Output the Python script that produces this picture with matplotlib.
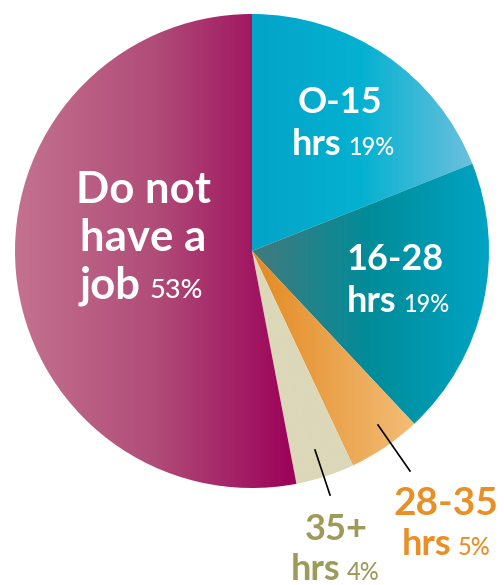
import numpy as np
import matplotlib
matplotlib.use("Agg")
import matplotlib.pyplot as plt
from matplotlib.colors import LinearSegmentedColormap

# Share of respondents by weekly hours of paid work
categories = ["0-15 hrs", "16-28 hrs", "28-35 hrs", "35+ hrs", "Do not have a job"]
shares = [19, 19, 5, 4, 53]

# Horizontal colour ramps for each slice (left -> right)
ramps = [
    ["#02a4c7", "#05b1d1", "#6cc0dd"],
    ["#437a7d", "#008c99", "#00a4c4"],
    ["#e38a22", "#f3bd78"],
    ["#dcd8b9", "#dcd8b9"],
    ["#c4728f", "#b04c78", "#9b0058"],
]

W, H = 504, 585
fig = plt.figure(figsize=(W / 100, H / 100), dpi=100)
ax = fig.add_axes([0, 0, 1, 1])

cx, cy, r = 252, H - 251, 237
wedges, _ = ax.pie(shares, startangle=90, counterclock=False,
                   center=(cx, cy), radius=r, frame=True,
                   wedgeprops=dict(linewidth=0))
ax.set_xlim(0, W)
ax.set_ylim(0, H)
ax.set_aspect("equal")
ax.axis("off")

grad = np.linspace(0, 1, 256).reshape(1, -1)
for w, cols in zip(wedges, ramps):
    w.set_facecolor("none")
    cmap = LinearSegmentedColormap.from_list("ramp", cols)
    th1, th2 = np.deg2rad(w.theta1), np.deg2rad(w.theta2)
    ang = np.linspace(th1, th2, 200)
    xs = np.concatenate([[cx], cx + r * np.cos(ang)])
    x0, x1 = xs.min(), xs.max()
    im = ax.imshow(grad, cmap=cmap, extent=[x0, x1, cy - r - 2, cy + r + 2],
                   aspect="auto", interpolation="bicubic", zorder=1)
    im.set_clip_path(w)

bold = dict(family="Lato", fontweight="bold")
reg = dict(family="Lato", fontweight="medium")

def py(y):
    return H - y

# Slice labels
big = 26
pct = 17
ax.text(340, py(113), "O-15", ha="center", va="baseline", color="white", fontsize=big, **bold)
ax.text(341, py(155), "hrs", ha="right", va="baseline", color="white", fontsize=big, **bold)
ax.text(348, py(155), f"{shares[0]}%", ha="left", va="baseline", color="white", fontsize=pct, **reg)

ax.text(395, py(270), "16-28", ha="center", va="baseline", color="white", fontsize=big, **bold)
ax.text(396, py(312), "hrs", ha="right", va="baseline", color="white", fontsize=big, **bold)
ax.text(403, py(312), f"{shares[1]}%", ha="left", va="baseline", color="white", fontsize=pct, **reg)

for i, line in enumerate(["Do not", "have a"]):
    ax.text(143, py(203 + 48 * i), line, ha="center", va="baseline", color="white",
            fontsize=31.5, **bold)
ax.text(141, py(298), "job", ha="right", va="baseline", color="white", fontsize=31.5, **bold)
ax.text(150, py(298), f"{shares[4]}%", ha="left", va="baseline", color="white", fontsize=19.5, **reg)

orange = "#e88f25"
olive = "#9e9a5a"
ax.text(446, py(515), "28-35", ha="center", va="baseline", color=orange, fontsize=28, **bold)
ax.text(451, py(555), "hrs", ha="right", va="baseline", color=orange, fontsize=big, **bold)
ax.text(458, py(555), f"{shares[2]}%", ha="left", va="baseline", color=orange, fontsize=pct, **reg)

ax.text(336, py(540), "35+", ha="center", va="baseline", color=olive, fontsize=big, **bold)
ax.text(340, py(580), "hrs", ha="right", va="baseline", color=olive, fontsize=big, **bold)
ax.text(347, py(580), f"{shares[3]}%", ha="left", va="baseline", color=olive, fontsize=pct, **reg)

# Leader lines
ax.plot([378, 410], [py(425), py(471)], color="black", lw=1.2, zorder=3)
ax.plot([315, 330], [py(450), py(495)], color="black", lw=1.2, zorder=3)

fig.savefig("out.png", dpi=100)
